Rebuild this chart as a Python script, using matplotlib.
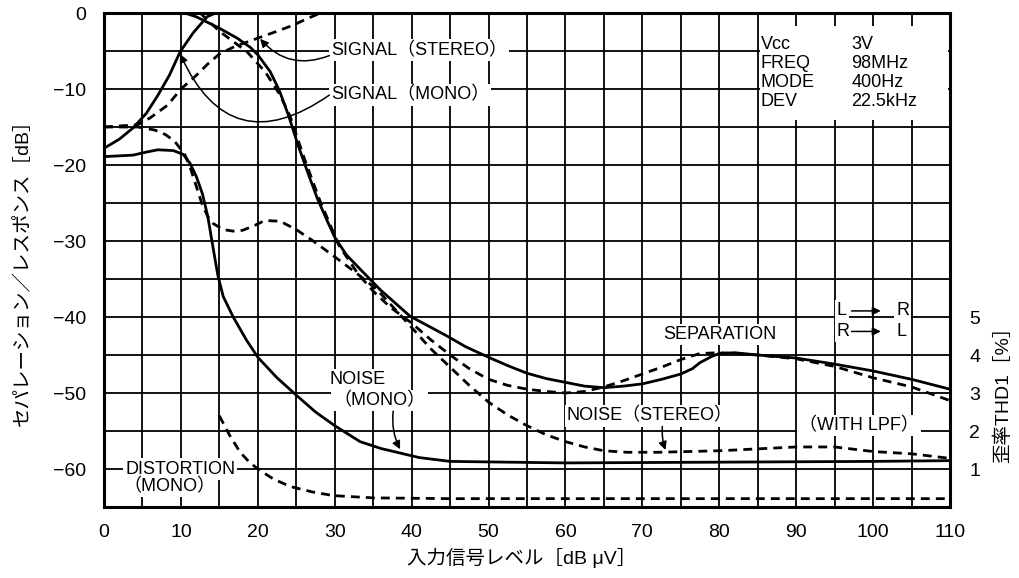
import numpy as np
import matplotlib
matplotlib.use("Agg")
import matplotlib.pyplot as plt
from matplotlib.patches import Rectangle

plt.rcParams['font.family'] = ['Liberation Sans', 'Noto Sans CJK JP']
plt.rcParams['axes.unicode_minus'] = True

# --- data (x = input level dBuV, y = dB) ---
sig_mono_x = [0, 2, 3.8, 5.5, 6.9, 8.5, 9.9, 11.6, 13.4, 14.5, 110]
sig_mono_y = [-17.8, -16.6, -15.1, -13.2, -11.0, -8.2, -5.1, -2.6, -0.5, 0, 0]

sig_stereo_x = [0, 4.4, 6, 8.3, 10, 11.8, 13.5, 15, 17, 20.3, 22.5, 24.6, 26.5, 27.7, 28.5, 110]
sig_stereo_y = [-15.0, -14.7, -13.8, -12.1, -10.0, -8.4, -6.7, -5.4, -4.4, -3.2, -2.4, -1.6,
                -0.7, -0.2, 0, 0]

sep_lr_x = [10.5, 12, 13, 15, 17.3, 19, 20, 21.6, 22.8, 24, 25.2, 26.5, 27.7, 29, 30, 31.5,
            33.3, 35.9, 39.8, 44.6, 47, 50, 52.5, 55, 57.5, 60, 62.5, 65, 67.5, 70, 72.5,
            75, 76.5, 77.5, 79, 80, 82, 85, 90, 95, 100, 105, 110]
sep_lr_y = [0, -0.5, -1.0, -2.0, -3.3, -4.5, -5.5, -7.7, -10.2, -13.5, -17.3, -21.0, -24.3,
            -27.3, -29.5, -31.8, -33.7, -36.4, -39.9, -42.5, -43.9, -45.3, -46.4, -47.4,
            -48.1, -48.6, -49.1, -49.3, -49.1, -48.8, -48.2, -47.5, -46.8, -46.0, -45.2,
            -44.8, -44.7, -45.0, -45.4, -46.2, -47.1, -48.2, -49.5]

sep_rl_x = [12.5, 15, 18.6, 21, 22.9, 24.2, 26, 28, 30.5, 33, 35, 37.2, 40, 42.5, 45, 47.5,
            50, 52.5, 55, 57.5, 60, 62.5, 65, 67.5, 70, 72.5, 75, 77.5, 80, 85, 90, 95,
            100, 105, 110]
sep_rl_y = [0, -2.4, -5.1, -7.8, -10.8, -13.6, -19.0, -24.5, -30.5, -34.3, -36.6, -38.7,
            -40.8, -43.0, -45.0, -46.8, -48.2, -49.0, -49.5, -49.8, -50.0, -49.8, -49.2,
            -48.4, -47.5, -46.6, -45.6, -44.8, -44.7, -45.0, -45.5, -46.5, -48.0, -49.2,
            -51.0]

noise_mono_x = [0, 3.8, 5.5, 7, 9, 10.3, 11.2, 12, 12.8, 13.5, 14.2, 14.8, 15.5, 16.8, 18.5,
                20, 22.5, 24.8, 27.5, 30, 33.3, 36, 38.5, 41, 45, 60, 80, 100, 110]
noise_mono_y = [-18.9, -18.7, -18.3, -18.0, -18.1, -18.6, -19.8, -21.5, -23.8, -26.8, -31.0,
                -34.5, -37.3, -40.0, -43.0, -45.3, -48.0, -50.1, -52.5, -54.3, -56.4, -57.3,
                -57.9, -58.5, -59.0, -59.2, -59.1, -59.0, -58.9]

noise_stereo_x = [0, 4.4, 6.6, 8, 9.2, 10.5, 11.2, 12, 12.7, 13.5, 14.2, 15.5, 16.8, 18,
                  19.5, 20.9, 22.9, 25, 27.2, 29.9, 33.3, 35.5, 37.5, 40.2, 42.5, 45, 47.5,
                  50, 52.5, 55, 57.5, 60, 62.5, 65, 68, 72, 80, 90, 95, 100, 105, 110]
noise_stereo_y = [-15.0, -15.0, -15.4, -16.0, -16.9, -18.6, -20.3, -22.8, -25.0, -26.8,
                  -27.7, -28.5, -28.7, -28.6, -28.0, -27.3, -27.4, -28.5, -30.0, -32.0,
                  -34.6, -36.4, -38.6, -41.6, -44.2, -46.6, -49.0, -51.2, -52.9, -54.3,
                  -55.5, -56.4, -57.1, -57.6, -57.8, -57.8, -57.6, -57.1, -57.1, -57.7,
                  -58.0, -58.6]

dist_mono_x = [15, 16.3, 17.7, 19, 20.3, 22, 24.2, 27, 29.8, 35, 45, 110]
dist_mono_y = [-53.0, -55.5, -57.8, -59.2, -60.2, -61.3, -62.3, -63.0, -63.5, -63.8, -63.9,
               -63.9]

y_ticks = [0, -10, -20, -30, -40, -50, -60]
x_ticks = list(range(0, 111, 10))
thd_ticks = [1, 2, 3, 4, 5]

info_names = "Vcc\nFREQ\nMODE\nDEV"
info_values = "3V\n98MHz\n400Hz\n22.5kHz"

DASH = (0, (3.2, 2.2))
LW = 2.0
box = dict(facecolor='white', edgecolor='none', pad=1.5)

fig = plt.figure(figsize=(10.2, 5.78), dpi=100)
ax = fig.add_axes([104 / 1020, 1 - 507 / 578, 846 / 1020, 494 / 578])

ax.set_xlim(0, 110)
ax.set_ylim(-65, 0)
ax.set_xticks(x_ticks)
ax.set_xticks(np.arange(5, 110, 10), minor=True)
ax.set_yticks(y_ticks)
ax.set_yticks(np.arange(-65, 0, 10), minor=True)
ax.tick_params(which='both', length=0, labelsize=14)
ax.tick_params(axis='y', pad=13)
ax.tick_params(axis='x', pad=12)
ax.grid(which='both', color='black', linewidth=1.3, zorder=1)
ax.set_axisbelow(True)
for sp in ax.spines.values():
    sp.set_linewidth(2.2)

# curves
ax.plot(sig_mono_x, sig_mono_y, color='black', lw=LW, zorder=5)
ax.plot(sig_stereo_x, sig_stereo_y, color='black', lw=LW, ls=DASH, zorder=5)
ax.plot(sep_lr_x, sep_lr_y, color='black', lw=LW, zorder=5)
ax.plot(sep_rl_x, sep_rl_y, color='black', lw=LW, ls=DASH, zorder=5)
ax.plot(noise_mono_x, noise_mono_y, color='black', lw=LW, zorder=5)
ax.plot(noise_stereo_x, noise_stereo_y, color='black', lw=LW, ls=DASH, zorder=5)
ax.plot(dist_mono_x, dist_mono_y, color='black', lw=LW, ls=DASH, zorder=5)

# right THD axis
ax2 = ax.twinx()
ax2.set_ylim(0, 13)
ax2.set_yticks(thd_ticks)
ax2.tick_params(length=0, labelsize=14, pad=14)
for sp in ax2.spines.values():
    sp.set_visible(False)

# labels / annotations
fs = 13
arrow = dict(arrowstyle='-|>', color='black', lw=1.1, mutation_scale=12,
             shrinkA=0, shrinkB=0)

ax.text(29.5, -4.9, "SIGNAL（STEREO）", fontsize=fs, va='center', bbox=box, zorder=4)
ax.text(29.5, -10.8, "SIGNAL（MONO）", fontsize=fs, va='center', bbox=box, zorder=4)
ax.annotate('', xy=(20.3, -3.4), xytext=(29.3, -5.6),
            arrowprops=dict(arrow, connectionstyle='arc3,rad=-0.35'), zorder=6)
ax.annotate('', xy=(9.9, -5.4), xytext=(29.3, -10.8),
            arrowprops=dict(arrow, connectionstyle='arc3,rad=-0.6'), zorder=6)

ax.add_patch(Rectangle((85.3, -14.1), 24.4, 12.4, facecolor='white',
                       edgecolor='none', zorder=3))
ax.text(85.4, -7.9, info_names, fontsize=fs, va='center', linespacing=1.17, zorder=4)
ax.text(97.2, -7.9, info_values, fontsize=fs, va='center', linespacing=1.17, zorder=4)

ax.text(72.7, -42.3, "SEPARATION", fontsize=fs, va='center', bbox=box, zorder=4)
ax.text(95.3, -39.2, "L", fontsize=fs, va='center', bbox=box, zorder=4)
ax.text(95.3, -41.9, "R", fontsize=fs, va='center', bbox=box, zorder=4)
ax.text(103.0, -39.2, "R", fontsize=fs, va='center', bbox=box, zorder=4)
ax.text(103.0, -41.9, "L", fontsize=fs, va='center', bbox=box, zorder=4)
ax.annotate('', xy=(101.0, -39.2), xytext=(97.2, -39.2), arrowprops=arrow, zorder=6)
ax.annotate('', xy=(101.0, -41.9), xytext=(97.2, -41.9), arrowprops=arrow, zorder=6)

ax.text(33.0, -48.2, "NOISE", fontsize=fs, va='center', ha='center', bbox=box, zorder=4)
ax.text(35.8, -51.0, "（MONO）", fontsize=fs, va='center', ha='center', bbox=box, zorder=4)
ax.annotate('', xy=(38.5, -57.4), xytext=(37.6, -52.4),
            arrowprops=dict(arrow, connectionstyle='arc3,rad=0.15'), zorder=6)

ax.text(60.2, -53.0, "NOISE（STEREO）", fontsize=fs, va='center', bbox=box, zorder=4)
ax.annotate('', xy=(73.0, -57.5), xytext=(72.6, -54.4),
            arrowprops=dict(arrow, connectionstyle='arc3,rad=0.1'), zorder=6)
ax.text(98.2, -54.3, "（WITH LPF）", fontsize=fs, va='center', ha='center', bbox=box, zorder=4)

ax.text(9.9, -60.0, "DISTORTION", fontsize=fs, va='center', ha='center', bbox=box, zorder=4)
ax.text(8.5, -62.3, "（MONO）", fontsize=fs, va='center', ha='center', bbox=box, zorder=4)

fig.text(22 / 1020, 1 - 268 / 578, "セパレーション／レスポンス［dB］", rotation=90,
         ha='center', va='center', fontsize=14)
fig.text(522 / 1020, 1 - 558 / 578, "入力信号レベル［dB μV］", ha='center', va='center',
         fontsize=14)
fig.text(1003 / 1020, 1 - 390 / 578, "歪率THD1［%］", rotation=90, ha='center',
         va='center', fontsize=14)

fig.savefig("out.png", dpi=100, facecolor='white')
